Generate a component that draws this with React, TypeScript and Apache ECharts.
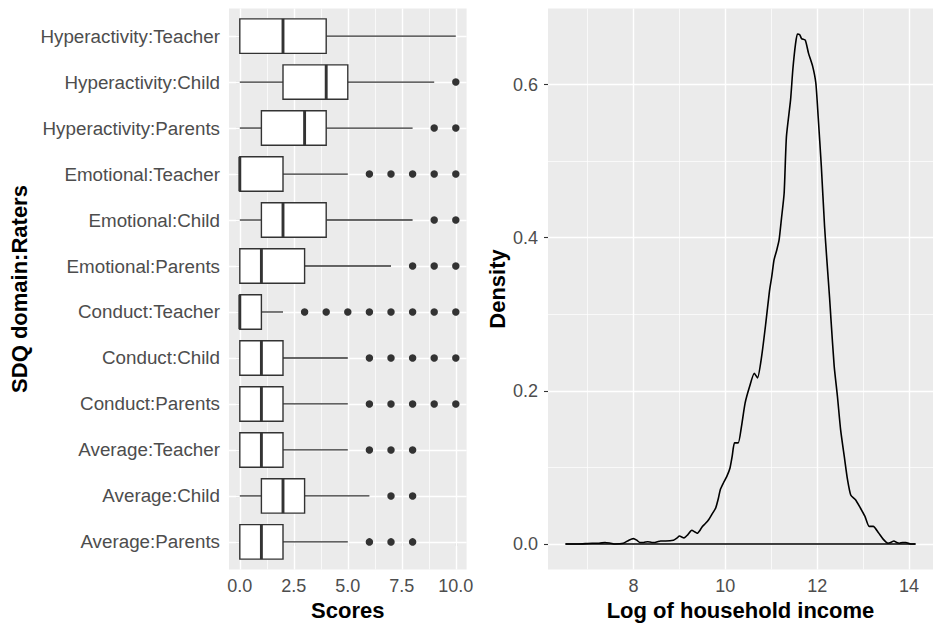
import React, { useEffect, useRef } from "react";
import * as echarts from "echarts";

// ---------- Left panel: SDQ scores (boxplots, bottom to top) ----------
const categories = [
  "Average:Parents",
  "Average:Child",
  "Average:Teacher",
  "Conduct:Parents",
  "Conduct:Child",
  "Conduct:Teacher",
  "Emotional:Parents",
  "Emotional:Child",
  "Emotional:Teacher",
  "Hyperactivity:Parents",
  "Hyperactivity:Child",
  "Hyperactivity:Teacher",
];
const whiskerLow = [0, 0, 0, 0, 0, 0, 0, 0, 0, 0, 0, 0];
const q1 = [0, 1, 0, 0, 0, 0, 0, 1, 0, 1, 2, 0];
const median = [1, 2, 1, 1, 1, 0, 1, 2, 0, 3, 4, 2];
const q3 = [2, 3, 2, 2, 2, 1, 3, 4, 2, 4, 5, 4];
const whiskerHigh = [5, 6, 5, 5, 5, 2, 7, 8, 5, 8, 9, 10];
const outliers = [
  [6, 7, 8],
  [7, 8],
  [6, 7, 8],
  [6, 7, 8, 9, 10],
  [6, 7, 8, 9, 10],
  [3, 4, 5, 6, 7, 8, 9, 10],
  [8, 9, 10],
  [9, 10],
  [6, 7, 8, 9, 10],
  [9, 10],
  [10],
  [],
];
const scoreTicks = [0, 2.5, 5, 7.5, 10];
const scoreMinor = [1.25, 3.75, 6.25, 8.75];

// ---------- Right panel: density of log household income ----------
const incomeX = [
  6.52, 6.8, 7.1, 7.25, 7.38, 7.5, 7.6, 7.78, 7.9, 8.0, 8.07, 8.14, 8.22, 8.31,
  8.4, 8.45, 8.52, 8.59, 8.7, 8.87, 8.95, 9.0, 9.1, 9.18, 9.27, 9.33, 9.39, 9.45,
  9.5, 9.57, 9.64, 9.72, 9.79, 9.85, 9.89, 9.96, 10.03, 10.1, 10.15, 10.2, 10.28,
  10.35, 10.43, 10.53, 10.63, 10.7, 10.79, 10.88, 10.96, 11.01, 11.06, 11.12,
  11.17, 11.22, 11.28, 11.33, 11.42, 11.47, 11.53, 11.57, 11.62, 11.66, 11.74,
  11.81, 11.9, 11.97, 12.02, 12.09, 12.16, 12.21, 12.27, 12.3, 12.37, 12.44,
  12.51, 12.59, 12.66, 12.73, 12.83, 12.94, 13.04, 13.13, 13.22, 13.33, 13.44,
  13.54, 13.6, 13.67, 13.73, 13.79, 13.86, 13.93, 14.04, 14.14,
];
const incomeDensity = [
  0, 0, 0.001, 0.001, 0.002, 0.001, 0.0, 0.001, 0.005, 0.007, 0.005, 0.002,
  0.002, 0.003, 0.002, 0.002, 0.003, 0.004, 0.004, 0.005, 0.008, 0.0105, 0.008,
  0.012, 0.018, 0.016, 0.014, 0.018, 0.023, 0.027, 0.032, 0.04, 0.047, 0.06,
  0.071, 0.08, 0.088, 0.099, 0.115, 0.132, 0.132, 0.153, 0.184, 0.206, 0.223,
  0.217, 0.245, 0.288, 0.33, 0.349, 0.371, 0.384, 0.397, 0.424, 0.458, 0.532,
  0.58, 0.62, 0.654, 0.666, 0.665, 0.66, 0.658, 0.641, 0.624, 0.602, 0.559,
  0.493, 0.415, 0.371, 0.321, 0.293, 0.232, 0.193, 0.149, 0.114, 0.084, 0.064,
  0.058, 0.047, 0.036, 0.023, 0.023, 0.015, 0.006, 0.001, 0.002, 0.004, 0.002,
  0.001, 0.002, 0.002, 0.0, 0,
];
const incomeTicks = [8, 10, 12, 14];
const incomeMinor = [7, 9, 11, 13];
const densityTicks = [0, 0.2, 0.4, 0.6];
const densityMinor = [0.1, 0.3, 0.5];

const FONT = "'Liberation Sans', Arial, Helvetica, sans-serif";
const PANEL = "#EBEBEB";
const INK = "#333333";
const LABEL = "#4D4D4D";

export default function App() {
  const ref = useRef<HTMLDivElement>(null);

  useEffect(() => {
    if (!ref.current) return;
    const chart = echarts.init(ref.current, undefined, { renderer: "svg" });

    // scale limits, ggplot-style expansion
    const sMin = 0 - 0.05 * 10;
    const sMax = 10 + 0.05 * 10;
    const cMin = -0.6;
    const cMax = categories.length - 1 + 0.6;
    const xLo = incomeX[0];
    const xHi = incomeX[incomeX.length - 1];
    const iMin = xLo - 0.05 * (xHi - xLo);
    const iMax = xHi + 0.05 * (xHi - xLo);
    const dMaxData = Math.max(...incomeDensity);
    const dMin = -0.05 * dMaxData;
    const dMax = dMaxData * 1.05;

    const vLines = (vals: number[], y0: number, y1: number) =>
      vals.map((v) => ({ coords: [[v, y0], [v, y1]] }));
    const hLines = (vals: number[], x0: number, x1: number) =>
      vals.map((v) => ({ coords: [[x0, v], [x1, v]] }));

    const gridSeries = (gi: number, major: any[], minor: any[]) => [
      {
        type: "lines",
        coordinateSystem: "cartesian2d",
        xAxisIndex: gi,
        yAxisIndex: gi,
        silent: true,
        z: 1,
        lineStyle: { color: "#FFFFFF", width: 0.7, opacity: 1 },
        data: minor,
      },
      {
        type: "lines",
        coordinateSystem: "cartesian2d",
        xAxisIndex: gi,
        yAxisIndex: gi,
        silent: true,
        z: 1,
        lineStyle: { color: "#FFFFFF", width: 1.4, opacity: 1 },
        data: major,
      },
    ];

    const catIdx = categories.map((_, i) => i);

    const tickStyle = { length: 4, lineStyle: { color: INK, width: 1.1 } };
    const labelStyle = { color: LABEL, fontSize: 18, fontFamily: FONT };
    const nameStyle = { color: "#000000", fontSize: 22, fontWeight: "bold", fontFamily: FONT };

    const option: any = {
      animation: false,
      grid: [
        { left: 229, top: 8.5, width: 237.6, height: 561, show: true, backgroundColor: PANEL, borderWidth: 0 },
        { left: 548, top: 8.5, width: 395, height: 561, show: true, backgroundColor: PANEL, borderWidth: 0 },
      ],
      xAxis: [
        {
          type: "value",
          gridIndex: 0,
          min: sMin,
          max: sMax,
          axisLine: { show: false },
          axisTick: { show: true, ...tickStyle, customValues: scoreTicks },
          axisLabel: { ...labelStyle, margin: 7, customValues: scoreTicks, formatter: (v: number) => v.toFixed(1) },
          splitLine: { show: false },
          name: "Scores",
          nameLocation: "middle",
          nameGap: 30,
          nameTextStyle: nameStyle,
        },
        {
          type: "value",
          gridIndex: 1,
          min: iMin,
          max: iMax,
          axisLine: { show: false },
          axisTick: { show: true, ...tickStyle, customValues: incomeTicks },
          axisLabel: { ...labelStyle, margin: 7, customValues: incomeTicks, formatter: (v: number) => String(Math.round(v)) },
          splitLine: { show: false },
          name: "Log of household income",
          nameLocation: "middle",
          nameGap: 30,
          nameTextStyle: nameStyle,
        },
      ],
      yAxis: [
        {
          type: "value",
          gridIndex: 0,
          min: cMin,
          max: cMax,
          axisLine: { show: false },
          axisTick: { show: true, ...tickStyle, customValues: catIdx },
          axisLabel: {
            ...labelStyle,
            fontSize: 18.8,
            margin: 9,
            customValues: catIdx,
            formatter: (v: number) => categories[Math.round(v)] ?? "",
          },
          splitLine: { show: false },
          name: "SDQ domain:Raters",
          nameLocation: "middle",
          nameRotate: 90,
          nameGap: 199,
          nameTextStyle: nameStyle,
        },
        {
          type: "value",
          gridIndex: 1,
          min: dMin,
          max: dMax,
          axisLine: { show: false },
          axisTick: { show: true, ...tickStyle, customValues: densityTicks },
          axisLabel: { ...labelStyle, margin: 10, customValues: densityTicks, formatter: (v: number) => v.toFixed(1) },
          splitLine: { show: false },
          name: "Density",
          nameLocation: "middle",
          nameRotate: 90,
          nameGap: 40,
          nameTextStyle: nameStyle,
        },
      ],
      series: [
        ...gridSeries(
          0,
          [...vLines(scoreTicks, cMin, cMax), ...hLines(catIdx, sMin, sMax)],
          vLines(scoreMinor, cMin, cMax)
        ),
        ...gridSeries(
          1,
          [...vLines(incomeTicks, dMin, dMax), ...hLines(densityTicks, iMin, iMax)],
          [...vLines(incomeMinor, dMin, dMax), ...hLines(densityMinor, iMin, iMax)]
        ),
        {
          type: "custom",
          xAxisIndex: 0,
          yAxisIndex: 0,
          z: 3,
          silent: true,
          encode: { x: [1, 2, 3, 4, 5], y: 0 },
          data: categories.map((_, i) => [i, whiskerLow[i], q1[i], median[i], q3[i], whiskerHigh[i]]),
          renderItem: (_params: any, api: any) => {
            const y = api.value(0);
            const pLo = api.coord([api.value(1), y]);
            const pA = api.coord([api.value(2), y]);
            const pM = api.coord([api.value(3), y]);
            const pB = api.coord([api.value(4), y]);
            const pHi = api.coord([api.value(5), y]);
            const h = api.size([0, 0.75])[1];
            const children: any[] = [];
            if (pA[0] - pLo[0] > 0.5)
              children.push({
                type: "line",
                shape: { x1: pLo[0], y1: pLo[1], x2: pA[0], y2: pA[1] },
                style: { stroke: INK, lineWidth: 1.3 },
              });
            if (pHi[0] - pB[0] > 0.5)
              children.push({
                type: "line",
                shape: { x1: pB[0], y1: pB[1], x2: pHi[0], y2: pHi[1] },
                style: { stroke: INK, lineWidth: 1.3 },
              });
            children.push({
              type: "rect",
              shape: { x: pA[0], y: pA[1] - h / 2, width: pB[0] - pA[0], height: h },
              style: { fill: "#FFFFFF", stroke: INK, lineWidth: 1.4 },
            });
            children.push({
              type: "line",
              shape: { x1: pM[0], y1: pM[1] - h / 2, x2: pM[0], y2: pM[1] + h / 2 },
              style: { stroke: INK, lineWidth: 2.9 },
            });
            return { type: "group", children };
          },
        },
        {
          type: "scatter",
          xAxisIndex: 0,
          yAxisIndex: 0,
          z: 4,
          silent: true,
          symbol: "circle",
          symbolSize: 7.5,
          itemStyle: { color: INK, opacity: 1 },
          data: outliers.flatMap((vals, i) => vals.map((v) => [v, i])),
        },
        {
          type: "line",
          xAxisIndex: 1,
          yAxisIndex: 1,
          z: 3,
          silent: true,
          showSymbol: false,
          symbol: "none",
          lineStyle: { color: "#000000", width: 1.5 },
          data: [[xLo, 0], [xHi, 0]],
        },
        {
          type: "line",
          xAxisIndex: 1,
          yAxisIndex: 1,
          z: 4,
          silent: true,
          showSymbol: false,
          symbol: "none",
          smooth: 0.2,
          lineStyle: { color: "#000000", width: 1.6 },
          data: incomeX.map((x, i) => [x, incomeDensity[i]]),
        },
      ],
    };

    chart.setOption(option);
    return () => chart.dispose();
  }, []);

  return (
    <div
      ref={ref}
      style={{ position: "absolute", left: 0, top: 0, width: 933, height: 627, background: "#FFFFFF" }}
    />
  );
}
